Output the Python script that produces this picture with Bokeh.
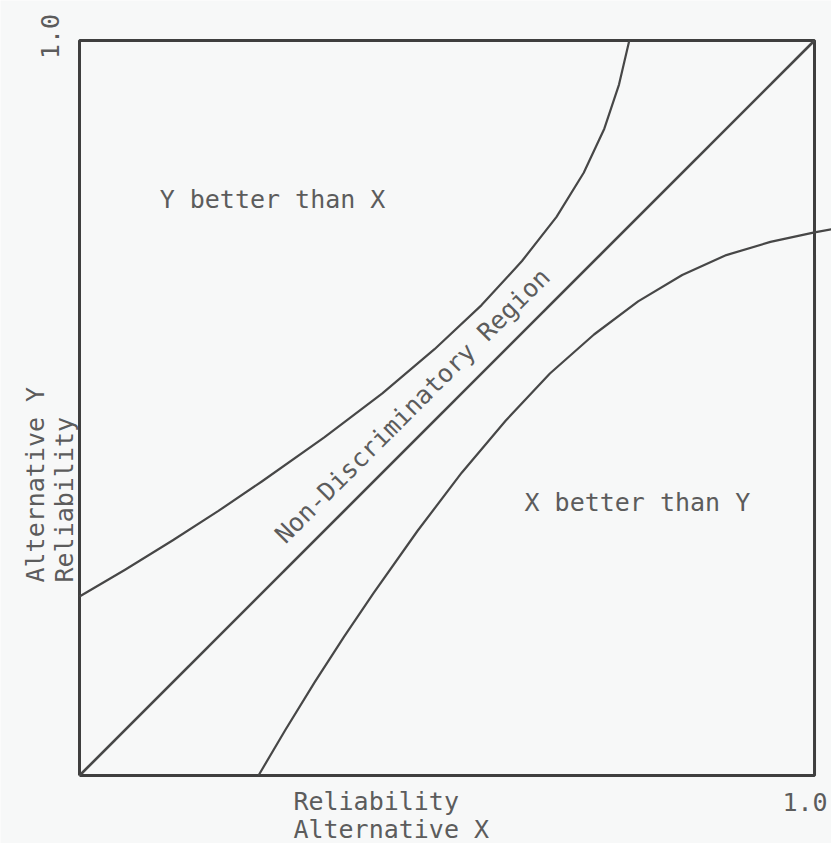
from bokeh.plotting import figure
from bokeh.models import Range1d
from bokeh.core.properties import value
from bokeh.embed import file_html
from bokeh.resources import INLINE
import math

# Boundary of the plot (unit square)
box_x = [0.0, 1.0, 1.0, 0.0, 0.0]
box_y = [0.0, 0.0, 1.0, 1.0, 0.0]

# Diagonal (equal reliability)
diag_x = [0.0, 1.0]
diag_y = [0.0, 1.0]

# Upper boundary of the non-discriminatory region
upper_x = [0.0, 0.062, 0.127, 0.189, 0.248, 0.333, 0.412, 0.483, 0.547, 0.602,
           0.649, 0.686, 0.714, 0.734, 0.748]
upper_y = [0.2435, 0.28, 0.32, 0.36, 0.40, 0.46, 0.52, 0.58, 0.64, 0.70,
           0.76, 0.82, 0.88, 0.94, 1.0]

# Lower boundary of the non-discriminatory region
lower_x = [0.2435, 0.28, 0.32, 0.36, 0.40, 0.46, 0.52, 0.58, 0.64, 0.70,
           0.76, 0.82, 0.88, 0.94, 1.0, 1.023]
lower_y = [0.0, 0.062, 0.127, 0.189, 0.248, 0.333, 0.412, 0.483, 0.547, 0.600,
           0.645, 0.681, 0.708, 0.726, 0.739, 0.743]

FONT = value("DejaVu Sans Mono")
LINE = "#474747"
TXT = "#5c5c5c"
FS = "25px"

p = figure(width=831, height=843, output_backend="svg", toolbar_location=None,
           x_range=Range1d(-0.1075, 1.0231), y_range=Range1d(-0.0925, 1.0544),
           min_border=0, x_axis_location=None, y_axis_location=None)
p.grid.visible = False
p.outline_line_color = None
p.background_fill_color = "#f7f8f8"
p.border_fill_color = "#f7f8f8"

p.line(box_x, box_y, line_color="#3f3f3f", line_width=3)
p.line(diag_x, diag_y, line_color=LINE, line_width=2.6)
p.line(upper_x, upper_y, line_color=LINE, line_width=2.2, line_join="round")
p.line(lower_x, lower_y, line_color=LINE, line_width=2.2, line_join="round")

def txt(x, y, s, align="center", baseline="middle", angle=0.0):
    p.text(x=[x], y=[y], text=[s], text_font=FONT, text_font_size=FS,
           text_color=TXT, text_align=align, text_baseline=baseline, angle=angle)

txt(0.2626, 0.7837, "Y better than X")
txt(0.759, 0.371, "X better than Y")
txt(0.453, 0.503, "Non-Discriminatory Region", angle=math.pi / 4)
txt(0.291, -0.0354, "Reliability", align="left", baseline="alphabetic")
txt(0.291, -0.0735, "Alternative X", align="left", baseline="alphabetic")
txt(1.0177, -0.0367, "1.0", align="right", baseline="alphabetic")
txt(-0.0395, 1.0054, "1.0", angle=math.pi / 2)
txt(-0.0599, 0.2626, "Alternative Y", align="left", baseline="alphabetic", angle=math.pi / 2)
txt(-0.0204, 0.2626, "Reliability", align="left", baseline="alphabetic", angle=math.pi / 2)

open("out.html", "w").write(file_html(p, INLINE))
